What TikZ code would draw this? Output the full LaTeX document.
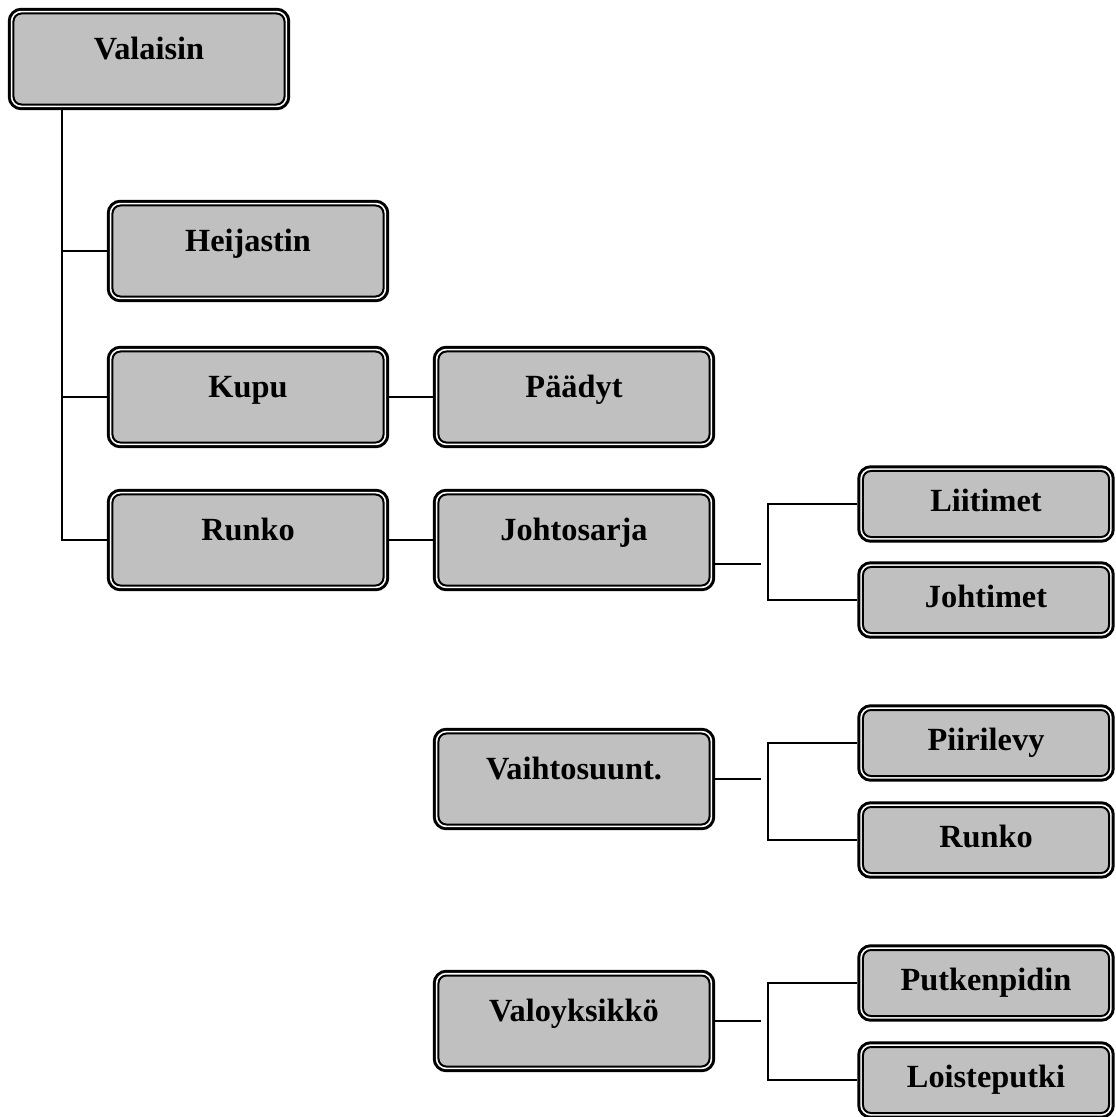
\documentclass[tikz,border=0pt]{standalone}
\usepackage{fontspec}
\setmainfont{Liberation Serif}
\usepackage{xcolor}
\definecolor{boxgray}{HTML}{C0C0C0}
\tikzset{
  part/.style = {rectangle, rounded corners=0.2cm, fill=boxgray, draw=black, line width=0.05cm,
    preaction={draw=black, line width=0.285cm},
    preaction={draw=white, line width=0.135cm},
    outer sep=0.14cm, inner sep=0pt,
    font=\bfseries\fontsize{23}{27}\selectfont, text height=16pt},
  big part/.style = {part, minimum width=6.775cm, minimum height=2.275cm, text depth=15pt},
  sub part/.style = {part, minimum width=6.15cm, minimum height=1.65cm, text depth=5pt},
  link/.style = {line width=1.1pt}
}

\begin{document}
\begin{tikzpicture}[x=0.025cm, y=-0.025cm]
  \useasboundingbox (0,0) rectangle (1116,1117);

  \coordinate (trunk) at (62,0);
  \coordinate (js stub) at (761,564);
  \coordinate (js fork) at (768,564);
  \coordinate (vs fork) at (768,780);
  \coordinate (vo fork) at (768,1020);

  \node[big part] (valaisin) at (149,59) {Valaisin};
  \node[big part] (heijastin) at (248,251) {Heijastin};
  \node[big part] (kupu) at (248,397) {Kupu};
  \node[big part] (runko) at (248,540) {Runko};
  \node[big part] (paadyt) at (574,397) {Päädyt};
  \node[big part] (johtosarja) at (574,540) {Johtosarja};
  \node[big part] (vaihto) at (574,779) {Vaihtosuunt.};
  \node[big part] (valo) at (574,1021) {Valoyksikkö};

  \node[sub part] (liitimet) at (986,504) {Liitimet};
  \node[sub part] (johtimet) at (986,600) {Johtimet};
  \node[sub part] (piirilevy) at (986,743) {Piirilevy};
  \node[sub part] (runko runko) at (986,840) {Runko};
  \node[sub part] (putkenpidin) at (986,983) {Putkenpidin};
  \node[sub part] (loisteputki) at (986,1080) {Loisteputki};

  \draw[link] (valaisin.south -| trunk) |- (runko.west);
  \draw[link] (trunk |- heijastin.west) -- (heijastin.west);
  \draw[link] (trunk |- kupu.west) -- (kupu.west);
  \draw[link] (kupu) -- (paadyt);
  \draw[link] (runko) -- (johtosarja);

  \draw[link] (js stub -| johtosarja.east) -- (js stub);
  \draw[link] (liitimet.west) -| (js fork) |- (johtimet.west);

  \draw[link] (vaihto.east) -- ([xshift=-7*0.025cm]vaihto.east -| vs fork);
  \draw[link] (piirilevy.west) -| (vs fork) |- (runko runko.west);

  \draw[link] (valo.east) -- ([xshift=-7*0.025cm]valo.east -| vo fork);
  \draw[link] (putkenpidin.west) -| (vo fork) |- (loisteputki.west);
\end{tikzpicture}
\end{document}
